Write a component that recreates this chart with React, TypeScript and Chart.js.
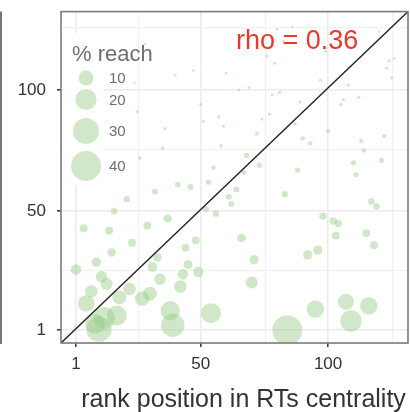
import React, { useEffect, useRef } from "react";
import { Chart, registerables } from "chart.js";

Chart.register(...registerables);

// ---- data ----
const X_RANK = [
  28, 24, 40, 47, 60, 25, 50, 51, 57, 59, 36, 35, 58, 26, 55, 53, 41, 46, 32, 21,
  16, 61, 62, 52, 56, 4, 14, 29, 37, 23, 15, 48, 44, 1, 9, 33, 31, 45, 11, 13,
  43, 49, 34, 7, 22, 18, 27, 30, 42, 5, 17, 12, 8.5, 10, 38, 39, 54,
  80, 86, 82.5, 76, 79, 99, 97, 65, 69, 78, 81, 89, 108, 106, 112, 105, 120, 124, 126, 123,
  125, 74, 77, 87, 72, 90, 93, 100, 113, 122, 114, 68, 73, 67, 64, 88, 110, 111, 121, 83,
  117, 119, 98, 102, 104, 103, 115, 118, 66, 71, 92, 96, 70, 95, 107, 116, 109, 84,
];
const Y_RANK = [
  119, 103, 106, 108, 107, 91, 94, 87, 89, 85, 84, 76, 77, 72, 68, 62, 61, 60, 58, 55,
  50, 56, 53, 51, 49, 43, 42, 44, 47, 37, 33, 38, 35, 26, 29, 31, 27, 28, 23, 20,
  24, 25, 22, 17, 18, 14.5, 14, 16, 19, 12, 7, 6, 3.6, 1.4, 9, 3, 8,
  125, 126, 120, 114, 111, 116, 104, 100, 101, 98, 99, 95, 102, 96, 97, 94, 124, 112, 113, 109,
  105, 88, 90, 86, 82, 80, 78, 83, 79, 81, 75, 73, 69, 66, 59, 67, 70, 65, 71, 57,
  54, 52, 48, 46, 45, 40, 41, 36, 39, 30, 32, 34, 20.6, 9.7, 12.7, 11, 4.8, 0.9,
];
const REACH = [
  0.3, 0.3, 0.3, 0.3, 0.4, 0.4, 0.4, 0.4, 0.5, 0.5, 0.5, 0.6, 0.6, 0.6, 0.9, 1.2, 1.5, 1.5, 1.6, 1.8,
  1.8, 1.5, 1.5, 1.5, 1.8, 2.8, 2.8, 2.8, 2.8, 2.8, 3.2, 2.8, 2.8, 5, 3.9, 3.3, 4.4, 3.9, 5.8, 6.4,
  5, 5, 5.8, 7.1, 7.1, 8.7, 9.5, 8.7, 7.1, 12.3, 17.8, 21.5, 17.8, 28.7, 16.5, 24.4, 17.8,
  0.3, 0.3, 0.4, 0.4, 0.4, 0.3, 0.4, 0.4, 0.4, 0.4, 0.5, 0.5, 0.5, 0.5, 0.5, 0.5, 0.3, 0.4, 0.4, 0.4,
  0.5, 0.5, 0.5, 0.6, 0.6, 0.9, 0.9, 0.7, 0.8, 0.8, 0.9, 1.2, 1.2, 1.1, 1.5, 1.2, 1.2, 1.2, 1.2, 1.9,
  1.9, 1.9, 2.4, 2.4, 2.4, 2.8, 2.8, 2.8, 3.3, 3.9, 3.9, 3.9, 6.4, 13.5, 11.4, 13.5, 20.4, 40,
];

const LEGEND_REACH = [10, 20, 30, 40];
const MAJOR_TICKS = [1, 50, 100];
const MINOR_TICKS = [25.5, 75.5, 125.5];
const X_RANGE = [-4.9, 131.4];
const Y_RANGE = [-4.3, 132.3];

const X_TITLE = "rank position in RTs centrality";
const LEGEND_TITLE = "% reach";
const RHO_LABEL = "rho = 0.36";

// ---- styles ----
const FONT = "'Liberation Sans', Arial, sans-serif";
const BUBBLE_FILL = "rgba(150, 205, 135, 0.45)";
const sizeOf = (v: number) => 2.37 * Math.sqrt(v);

const ALL_TICKS = [...MAJOR_TICKS, ...MINOR_TICKS].sort((a, b) => a - b);
const isMajor = (v: number) => MAJOR_TICKS.includes(v);

const decor = {
  id: "decor",
  beforeDatasetsDraw(chart: any) {
    const ctx = chart.ctx;
    ctx.save();
    ctx.fillStyle = "#ffffff";
    ctx.fillRect(63, 33, 40, 152);
    ctx.restore();
  },
  afterDraw(chart: any) {
    const ctx = chart.ctx;
    const a = chart.chartArea;
    ctx.save();
    // legend
    ctx.fillStyle = "#6e6e6e";
    ctx.font = `22px ${FONT}`;
    ctx.textAlign = "left";
    ctx.textBaseline = "alphabetic";
    ctx.fillText(LEGEND_TITLE, 72, 61);
    const ys = [78, 99.5, 131, 166];
    LEGEND_REACH.forEach((v, i) => {
      ctx.beginPath();
      ctx.fillStyle = BUBBLE_FILL;
      ctx.arc(86, ys[i], sizeOf(v), 0, Math.PI * 2);
      ctx.fill();
      ctx.fillStyle = "#6e6e6e";
      ctx.font = `15px ${FONT}`;
      ctx.textBaseline = "middle";
      ctx.fillText(String(v), 109, ys[i] + 1);
    });
    // rho label
    ctx.fillStyle = "#e8392b";
    ctx.font = `27px ${FONT}`;
    ctx.textBaseline = "alphabetic";
    ctx.fillText(RHO_LABEL, 236, 49);
    // x title
    ctx.fillStyle = "#333333";
    ctx.font = `25px ${FONT}`;
    ctx.textAlign = "center";
    ctx.fillText(X_TITLE, 243.5, 407);
    // panel border
    ctx.strokeStyle = "#7a7a7a";
    ctx.lineWidth = 1.6;
    ctx.strokeRect(a.left, a.top, a.right - a.left, a.bottom - a.top);
    // neighbouring panel edge
    ctx.strokeStyle = "#555555";
    ctx.lineWidth = 1.6;
    ctx.beginPath();
    ctx.moveTo(1, a.top);
    ctx.lineTo(1, a.bottom + 1);
    ctx.stroke();
    ctx.restore();
  },
};

function axis(range: number[], isX: boolean) {
  return {
    type: "linear",
    min: range[0],
    max: range[1],
    afterBuildTicks: (s: any) => {
      s.ticks = ALL_TICKS.map((v) => ({ value: v }));
    },
    afterFit: (s: any) => {
      if (isX) s.height = 69;
      else s.width = 61;
    },
    border: { display: false },
    grid: {
      color: (c: any) => (isMajor(c.tick?.value) ? "#ebebeb" : "#f1f1f1"),
      lineWidth: (c: any) => (isMajor(c.tick?.value) ? 1.6 : 1.2),
      tickColor: (c: any) => (isMajor(c.tick?.value) ? "#333333" : "rgba(0,0,0,0)"),
      tickLength: 4,
      tickWidth: 1.5,
    },
    ticks: {
      autoSkip: false,
      maxRotation: 0,
      padding: isX ? 7 : 11,
      color: "#333333",
      font: (c: any) => ({ family: FONT, size: isMajor(c.tick?.value) ? 17 : 1 }),
      callback: (v: any) => (isMajor(Number(v)) ? String(v) : ""),
    },
  };
}

export default function App() {
  const ref = useRef<HTMLCanvasElement | null>(null);
  useEffect(() => {
    document.body.style.margin = "0";
    const bubbles = X_RANK.map((x, i) => ({ x, y: Y_RANK[i], r: sizeOf(REACH[i]) }));
    const chart = new Chart(ref.current as HTMLCanvasElement, {
      type: "bubble",
      data: {
        datasets: [
          {
            type: "scatter",
            data: [
              { x: X_RANGE[0], y: Y_RANGE[0] },
              { x: X_RANGE[1], y: Y_RANGE[1] },
            ],
            showLine: true,
            borderColor: "#222222",
            borderWidth: 1.4,
            pointRadius: 0,
            fill: false,
          } as any,
          {
            data: bubbles,
            backgroundColor: BUBBLE_FILL,
            borderWidth: 0,
            hoverBorderWidth: 0,
          },
        ],
      },
      options: {
        animation: false,
        responsive: true,
        maintainAspectRatio: false,
        layout: { autoPadding: false, padding: { top: 9, right: 2, left: 0, bottom: 0 } },
        plugins: { legend: { display: false }, tooltip: { enabled: false } },
        scales: { x: axis(X_RANGE, true), y: axis(Y_RANGE, false) } as any,
      },
      plugins: [decor],
    });
    return () => chart.destroy();
  }, []);
  return (
    <div style={{ width: 410, height: 412, position: "relative" }}>
      <canvas ref={ref} />
    </div>
  );
}
